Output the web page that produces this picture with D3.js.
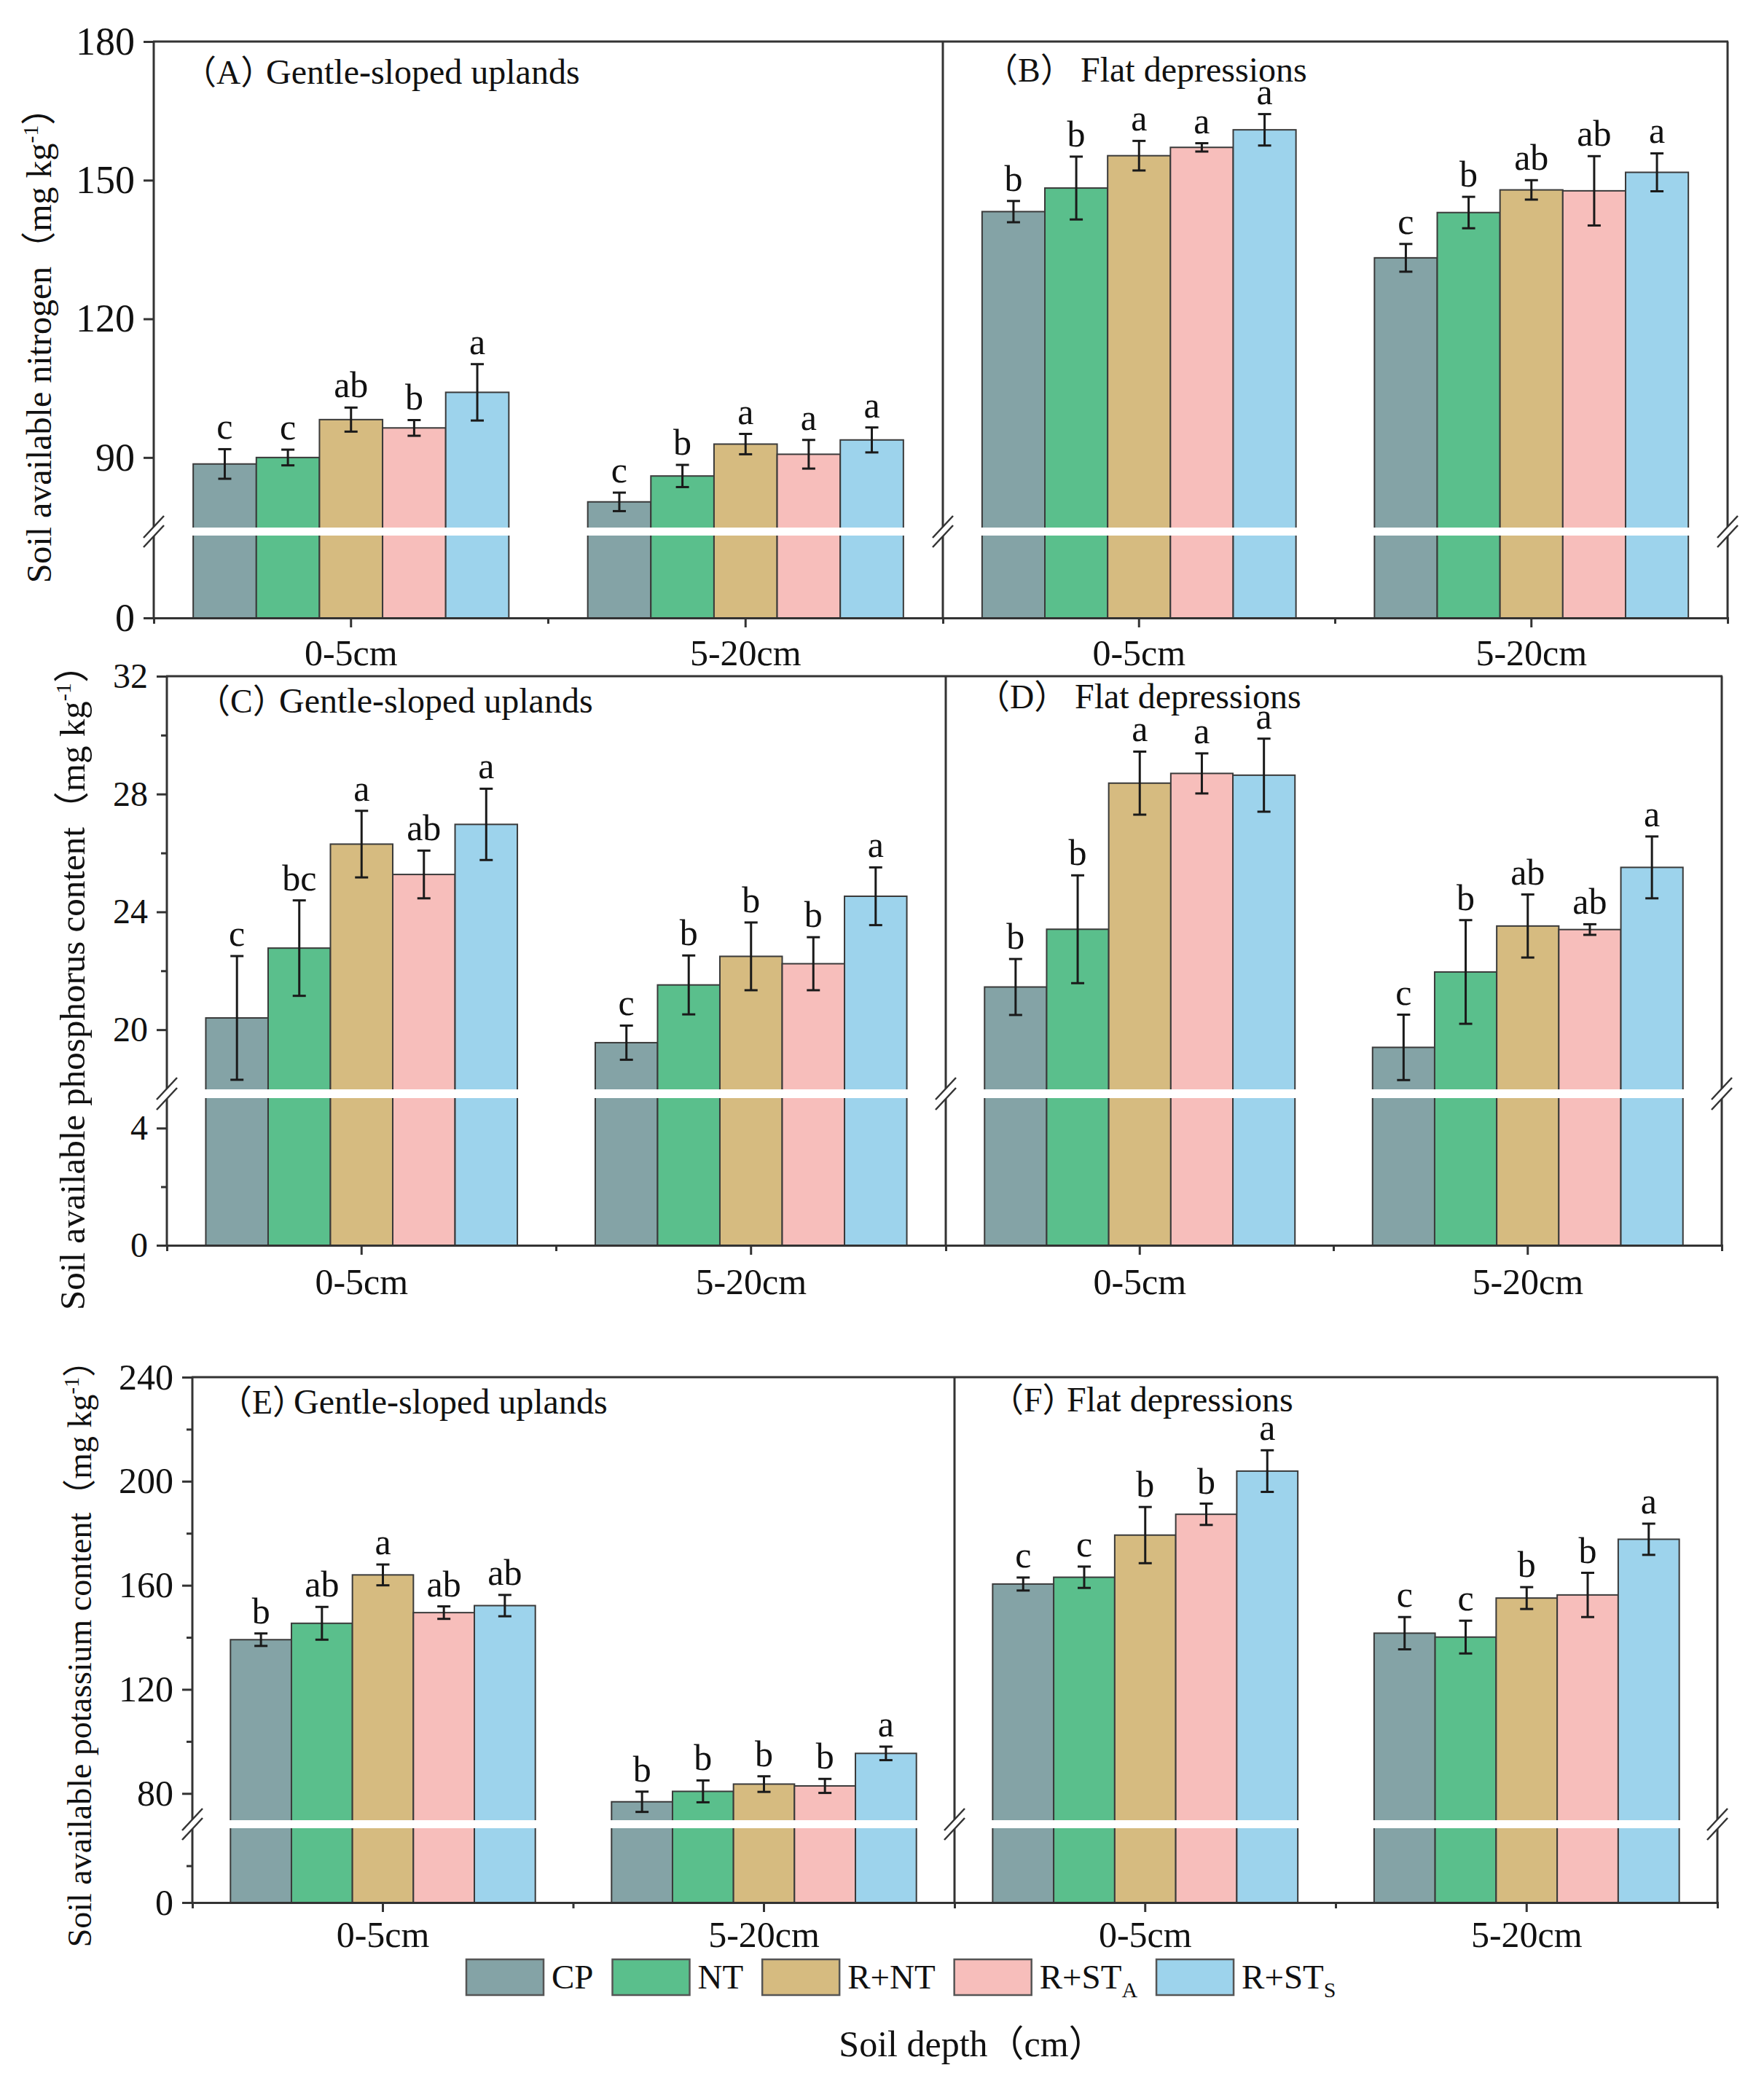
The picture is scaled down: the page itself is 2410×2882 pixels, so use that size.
<!DOCTYPE html>
<html>
<head>
<meta charset="utf-8">
<script src="https://cdn.jsdelivr.net/npm/d3@7"></script>
<style>
  body { margin: 0; background: #fff; }
  text { font-family: "Liberation Serif", "Times New Roman", "Noto Sans CJK SC", serif; fill: #111; }
</style>
</head>
<body>
<svg id="chart"></svg>
<script>
// ---- data ----
const depths = ["0-5cm", "5-20cm"];
const treatments = ["CP", "NT", "R+NT", "R+STA", "R+STS"];
const treatmentNames = [["CP", ""], ["NT", ""], ["R+NT", ""], ["R+ST", "A"], ["R+ST", "S"]];
const palette = ["#84a3a6", "#5abf8c", "#d6bb80", "#f7bebb", "#9dd3ec"];

// soil available nitrogen (rows = depth, cols = treatment)
const nUplandMean = [[88.6, 90.0, 98.2, 96.4, 104.1], [80.4, 86.0, 92.9, 90.7, 93.8]];
const nUplandErr  = [[3.2, 1.7, 2.6, 1.7, 6.1], [2.0, 2.4, 2.2, 3.1, 2.7]];
const nUplandSig  = [["c", "c", "ab", "b", "a"], ["c", "b", "a", "a", "a"]];
const nDepressMean = [[143.2, 148.3, 155.3, 157.1, 160.9], [133.2, 143.0, 147.9, 147.7, 151.7]];
const nDepressErr  = [[2.3, 6.8, 3.2, 0.9, 3.4], [3.0, 3.4, 2.1, 7.5, 4.1]];
const nDepressSig  = [["b", "b", "a", "a", "a"], ["c", "b", "ab", "ab", "a"]];

// soil available phosphorus
const pUplandMean = [[20.4, 22.77, 26.3, 25.27, 26.97], [19.56, 21.52, 22.49, 22.24, 24.53]];
const pUplandErr  = [[2.1, 1.62, 1.13, 0.81, 1.21], [0.58, 1.0, 1.15, 0.9, 0.98]];
const pUplandSig  = [["c", "bc", "a", "ab", "a"], ["c", "b", "b", "b", "a"]];
const pDepressMean = [[21.45, 23.41, 28.37, 28.7, 28.64], [19.4, 21.96, 23.52, 23.4, 25.51]];
const pDepressErr  = [[0.95, 1.83, 1.07, 0.68, 1.24], [1.11, 1.76, 1.07, 0.18, 1.05]];
const pDepressSig  = [["b", "b", "a", "a", "a"], ["c", "b", "ab", "ab", "a"]];

// soil available potassium
const kUplandMean = [[139.1, 145.4, 164.0, 149.5, 152.2], [76.8, 80.8, 83.6, 82.9, 95.4]];
const kUplandErr  = [[2.4, 6.3, 4.0, 2.4, 4.1], [3.9, 4.2, 3.0, 2.7, 2.6]];
const kUplandSig  = [["b", "ab", "a", "ab", "ab"], ["b", "b", "b", "b", "a"]];
const kDepressMean = [[160.5, 163.1, 179.3, 187.3, 203.9], [141.6, 140.1, 155.1, 156.3, 177.7]];
const kDepressErr  = [[2.5, 4.1, 10.8, 4.1, 8.0], [6.2, 6.3, 4.2, 8.5, 6.0]];
const kDepressSig  = [["c", "c", "b", "b", "a"], ["c", "c", "b", "b", "a"]];

// axis ticks (upper part / lower part of the broken axis)
const nTicks = [90, 120, 150, 180], nMinor = [], nLowTicks = [0], nLowMinor = [];
const pTicks = [20, 24, 28, 32], pMinor = [22, 26, 30], pLowTicks = [0, 4], pLowMinor = [2];
const kTicks = [80, 120, 160, 200, 240], kMinor = [100, 140, 180, 220], kLowTicks = [0], kLowMinor = [10];

// ---- layout ----
const W = 2410, H = 2882;
const svg = d3.select("#chart").attr("width", W).attr("height", H);

const rows = [
  { top: 57, bottom: 848, x0: 211, xm: 1294, x1: 2371, upper: [75, 180], lower: [0, 20], gapTop: 723, gapBottom: 736,
    ticks: nTicks, minor: nMinor, lowTicks: nLowTicks, lowMinor: nLowMinor, tickFont: 54, catFont: 50, catPad: 16,
    label: ["Soil available nitrogen（mg kg", "-1", "）"], labelX: 70, labelY: 462, labelFont: 48 },
  { top: 928, bottom: 1709, x0: 229, xm: 1298, x1: 2363, upper: [18, 32], lower: [0, 5], gapTop: 1494, gapBottom: 1508,
    ticks: pTicks, minor: pMinor, lowTicks: pLowTicks, lowMinor: pLowMinor, tickFont: 48, catFont: 50, catPad: 18,
    label: ["Soil available phosphorus content（mg kg", "-1", "）"], labelX: 116, labelY: 1343, labelFont: 49 },
  { top: 1890, bottom: 2611, x0: 264, xm: 1310, x1: 2357, upper: [70, 240], lower: [0, 20], gapTop: 2497, gapBottom: 2510,
    ticks: kTicks, minor: kMinor, lowTicks: kLowTicks, lowMinor: kLowMinor, tickFont: 50, catFont: 50, catPad: 12,
    label: ["Soil available potassium content（mg kg", "-1", "）"], labelX: 125, labelY: 2258, labelFont: 46 }
];

const panels = [
  { row: 0, side: 0, tag: "（A）", name: "Gentle-sloped uplands", mean: nUplandMean, err: nUplandErr, sig: nUplandSig, tagDx: 40, nameDx: 154, titleDy: 58 },
  { row: 0, side: 1, tag: "（B）", name: "Flat depressions", mean: nDepressMean, err: nDepressErr, sig: nDepressSig, tagDx: 57, nameDx: 189, titleDy: 55 },
  { row: 1, side: 0, tag: "（C）", name: "Gentle-sloped uplands", mean: pUplandMean, err: pUplandErr, sig: pUplandSig, tagDx: 41, nameDx: 154, titleDy: 50 },
  { row: 1, side: 1, tag: "（D）", name: "Flat depressions", mean: pDepressMean, err: pDepressErr, sig: pDepressSig, tagDx: 42, nameDx: 177, titleDy: 44 },
  { row: 2, side: 0, tag: "（E）", name: "Gentle-sloped uplands", mean: kUplandMean, err: kUplandErr, sig: kUplandSig, tagDx: 36, nameDx: 139, titleDy: 50 },
  { row: 2, side: 1, tag: "（F）", name: "Flat depressions", mean: kDepressMean, err: kDepressErr, sig: kDepressSig, tagDx: 49, nameDx: 154, titleDy: 47 }
];

const AXIS = "#333";

function drawRow(r) {
  var g = svg.append("g");
  var yUp = d3.scaleLinear().domain(r.upper).range([r.gapTop, r.top]);
  var yLow = d3.scaleLinear().domain(r.lower).range([r.bottom, r.gapBottom]);
  r.yUp = yUp;

  // left axis ticks, upper segment
  g.append("g").attr("transform", "translate(" + r.x0 + ",0)")
    .call(d3.axisLeft(yUp).tickValues(r.ticks).tickSize(14).tickPadding(12).tickFormat(d3.format("d")))
    .call(styleAxis, r.tickFont);
  g.append("g").attr("transform", "translate(" + r.x0 + ",0)")
    .call(d3.axisLeft(yUp).tickValues(r.minor).tickSize(8).tickFormat(""))
    .call(styleAxis, r.tickFont);
  // lower segment
  g.append("g").attr("transform", "translate(" + r.x0 + ",0)")
    .call(d3.axisLeft(yLow).tickValues(r.lowTicks).tickSize(14).tickPadding(12).tickFormat(d3.format("d")))
    .call(styleAxis, r.tickFont);
  g.append("g").attr("transform", "translate(" + r.x0 + ",0)")
    .call(d3.axisLeft(yLow).tickValues(r.lowMinor).tickSize(8).tickFormat(""))
    .call(styleAxis, r.tickFont);

  // y label
  var lab = g.append("text")
    .attr("transform", "translate(" + r.labelX + "," + r.labelY + ") rotate(-90)")
    .attr("text-anchor", "middle")
    .style("font-size", r.labelFont + "px");
  lab.append("tspan").text(r.label[0]);
  lab.append("tspan").attr("dy", -r.labelFont * 0.38).style("font-size", (r.labelFont * 0.62) + "px").text(r.label[1]);
  lab.append("tspan").attr("dy", r.labelFont * 0.38).text(r.label[2]);

  return g;
}

function styleAxis(sel, fontSize) {
  sel.select(".domain").remove();
  sel.selectAll(".tick line").attr("stroke", AXIS).attr("stroke-width", 3);
  sel.selectAll(".tick text").style("font-size", fontSize + "px").attr("fill", "#111");
}

function drawPanel(p) {
  var r = rows[p.row];
  var xa = p.side == 0 ? r.x0 : r.xm;
  var xb = p.side == 0 ? r.xm : r.x1;
  var g = svg.append("g");

  var xGroup = d3.scaleBand().domain(depths).range([xa, xb]).paddingInner(0.2).paddingOuter(0.1);
  var xBar = d3.scaleBand().domain(treatments).range([0, xGroup.bandwidth()]);

  var recs = [];
  depths.forEach(function(d, i) {
    treatments.forEach(function(t, j) {
      recs.push({ depth: d, t: t, j: j, mean: p.mean[i][j], err: p.err[i][j], sig: p.sig[i][j] });
    });
  });

  g.selectAll(".bar").data(recs).enter().append("rect")
    .attr("class", "bar")
    .attr("x", function(d) { return xGroup(d.depth) + xBar(d.t); })
    .attr("y", function(d) { return r.yUp(d.mean); })
    .attr("width", xBar.bandwidth())
    .attr("height", function(d) { return r.bottom - r.yUp(d.mean); })
    .attr("fill", function(d) { return palette[d.j]; })
    .attr("stroke", "#3a3a3a")
    .attr("stroke-width", 2);

  // white gap across the bars where the axis is broken
  g.selectAll(".gap").data(depths).enter().append("rect")
    .attr("x", function(d) { return xGroup(d) - 2; })
    .attr("y", r.gapTop + 1)
    .attr("width", xGroup.bandwidth() + 4)
    .attr("height", r.gapBottom - r.gapTop - 2)
    .attr("fill", "#fff");

  // error bars
  var eb = g.selectAll(".err").data(recs).enter().append("g").attr("class", "err")
    .attr("stroke", "#1a1a1a").attr("stroke-width", 3);
  var cx = function(d) { return xGroup(d.depth) + xBar(d.t) + xBar.bandwidth() / 2; };
  eb.append("line")
    .attr("x1", cx).attr("x2", cx)
    .attr("y1", function(d) { return r.yUp(d.mean - d.err); })
    .attr("y2", function(d) { return r.yUp(d.mean + d.err); });
  [-1, 1].forEach(function(s) {
    eb.append("line")
      .attr("x1", function(d) { return cx(d) - 9; })
      .attr("x2", function(d) { return cx(d) + 9; })
      .attr("y1", function(d) { return r.yUp(d.mean + s * d.err); })
      .attr("y2", function(d) { return r.yUp(d.mean + s * d.err); });
  });

  // significance letters
  g.selectAll(".sig").data(recs).enter().append("text")
    .attr("x", cx)
    .attr("y", function(d) { return r.yUp(d.mean + d.err) - 14; })
    .attr("text-anchor", "middle")
    .style("font-size", "50px")
    .text(function(d) { return d.sig; });

  // bottom axis
  var ax = g.append("g").attr("transform", "translate(0," + r.bottom + ")")
    .call(d3.axisBottom(xGroup).tickSize(13).tickSizeOuter(8).tickPadding(r.catPad));
  ax.select(".domain").attr("stroke", AXIS).attr("stroke-width", 3);
  ax.selectAll(".tick line").attr("stroke", AXIS).attr("stroke-width", 3);
  ax.selectAll(".tick text").style("font-size", r.catFont + "px").attr("fill", "#111");
  var xMid = (xa + xb) / 2;
  g.append("line").attr("x1", xMid).attr("x2", xMid).attr("y1", r.bottom).attr("y2", r.bottom + 8)
    .attr("stroke", AXIS).attr("stroke-width", 3);

  // panel title
  g.append("text").attr("x", xa + p.tagDx).attr("y", r.top + p.titleDy)
    .style("font-size", "46px").text(p.tag);
  g.append("text").attr("x", xa + p.nameDx).attr("y", r.top + p.titleDy)
    .style("font-size", "48px").text(p.name);
}

function drawFrame(r) {
  var g = svg.append("g").attr("stroke", AXIS).attr("stroke-width", 3).attr("fill", "none");
  g.append("line").attr("x1", r.x0 - 1).attr("x2", r.x1 + 1).attr("y1", r.top).attr("y2", r.top);
  [r.x0, r.xm, r.x1].forEach(function(x) {
    g.append("line").attr("x1", x).attr("x2", x).attr("y1", r.top).attr("y2", r.gapTop);
    g.append("line").attr("x1", x).attr("x2", x).attr("y1", r.gapBottom).attr("y2", r.bottom);
    // break marks
    [r.gapTop, r.gapBottom].forEach(function(y) {
      g.append("line").attr("x1", x - 14).attr("x2", x + 14).attr("y1", y + 15).attr("y2", y - 15)
        .attr("stroke-width", 2.5);
    });
  });
}

rows.forEach(drawRow);
panels.forEach(drawPanel);
rows.forEach(drawFrame);

// ---- legend ----
var leg = svg.append("g");
var lx = 640;
treatmentNames.forEach(function(n, j) {
  leg.append("rect").attr("x", lx).attr("y", 2689).attr("width", 106).attr("height", 49)
    .attr("fill", palette[j]).attr("stroke", "#555").attr("stroke-width", 2.5);
  var t = leg.append("text").attr("x", lx + 117).attr("y", 2729).style("font-size", "47px");
  t.append("tspan").text(n[0]);
  if (n[1]) {
    t.append("tspan").attr("dy", 12).style("font-size", "30px").text(n[1]);
  }
  lx = lx + 117 + t.node().getComputedTextLength() + 26;
});

svg.append("text")
  .attr("x", 1334).attr("y", 2822)
  .attr("text-anchor", "middle")
  .style("font-size", "50px")
  .text("Soil depth（cm）");
</script>
</body>
</html>
